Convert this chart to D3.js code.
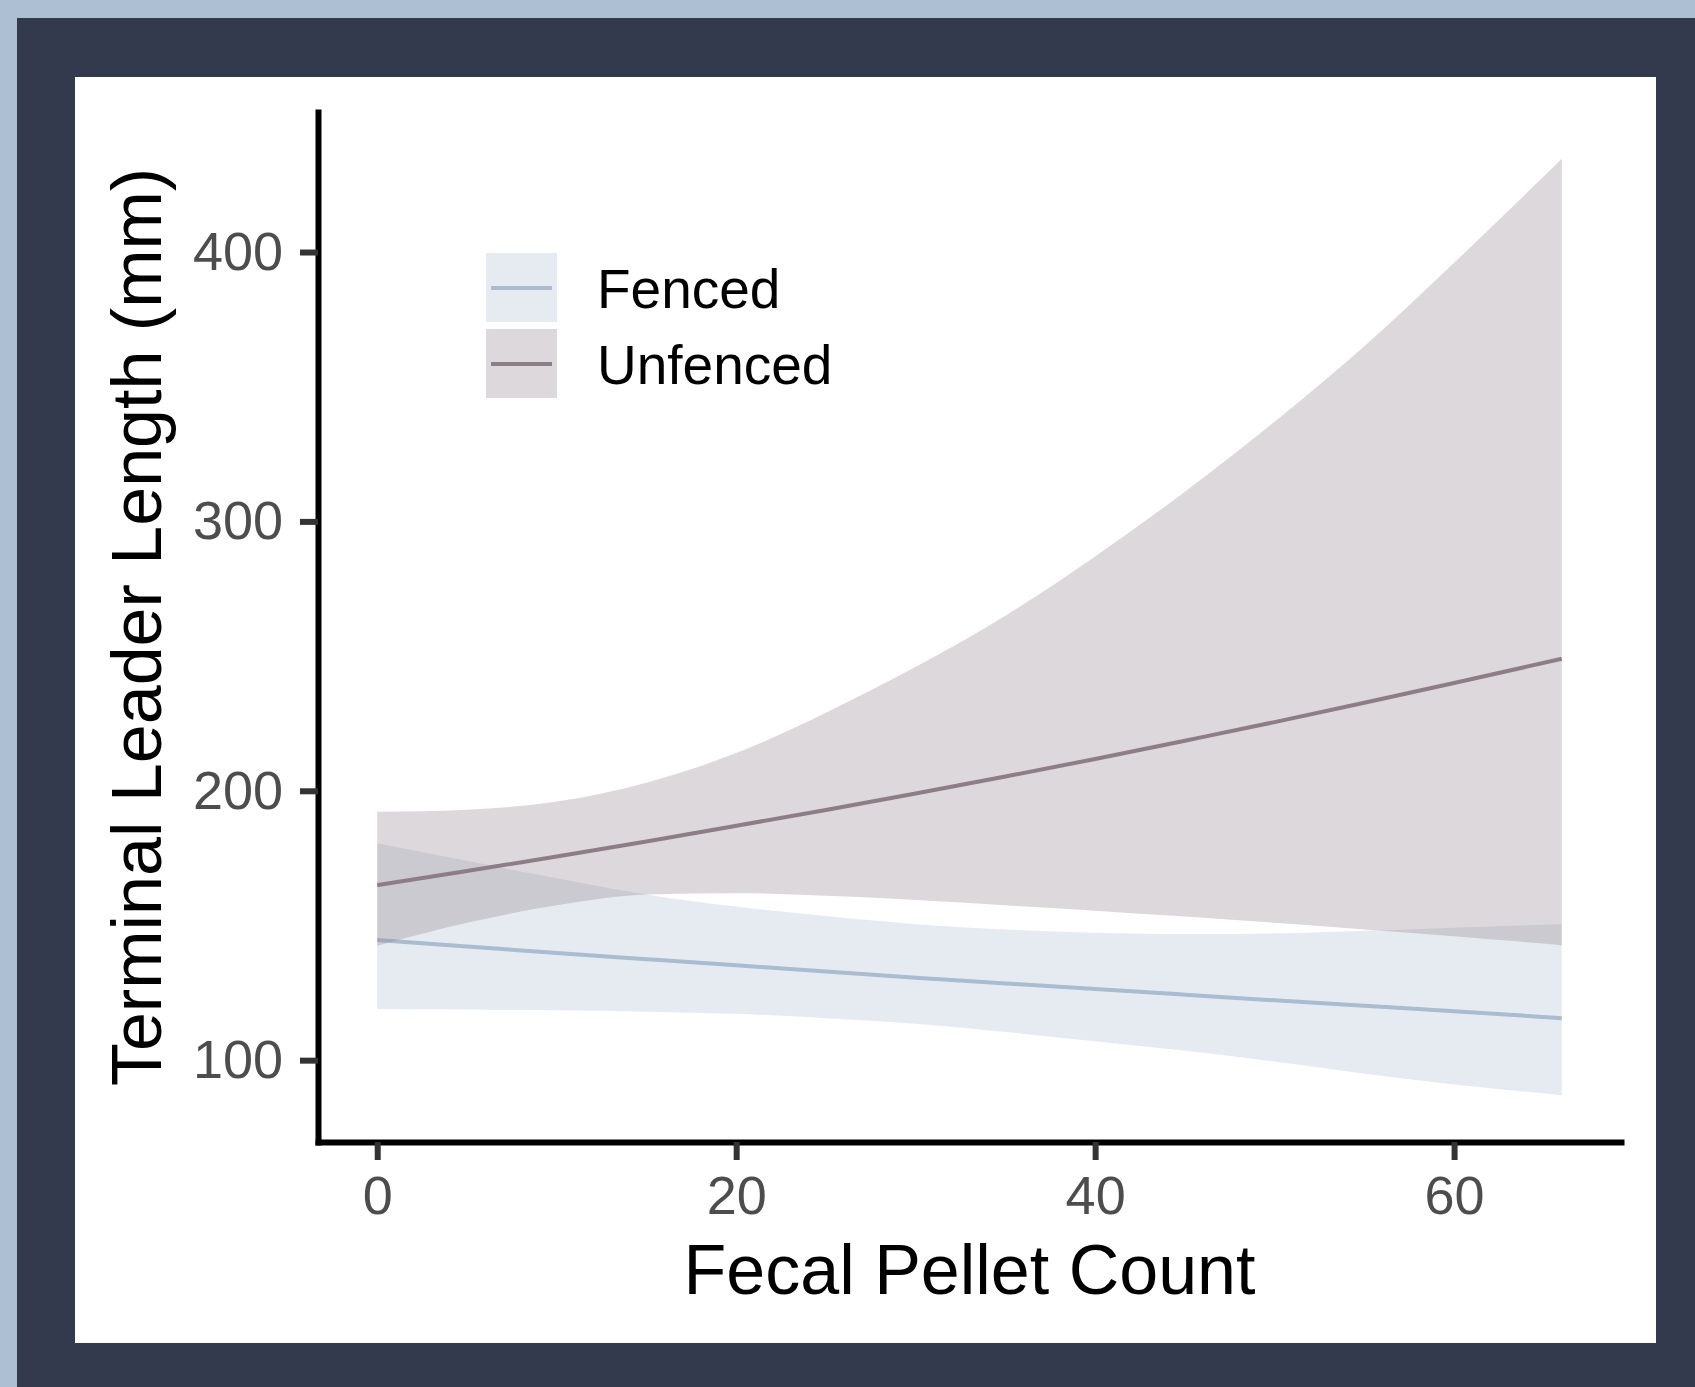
<!DOCTYPE html>
<html>
<head>
<meta charset="utf-8">
<script src="https://cdn.jsdelivr.net/npm/d3@7.9.0/dist/d3.min.js"></script>
<style>
  body { margin: 0; background: #adbfd3; }
  svg { display: block; }
  text { font-family: "Liberation Sans", Arial, sans-serif; }
</style>
</head>
<body>
<div id="chart"></div>
<script>
// fitted values
const pelletCount = [0, 5, 10, 15, 20, 25, 30, 35, 40, 45, 50, 55, 60, 66];

const fencedFit   = [144.6, 142.2, 139.8, 137.5, 135.2, 132.9, 130.6, 128.5, 126.4, 124.3, 122.2, 120.2, 118.2, 115.6];
const fencedLower = [119, 118.8, 118.5, 118, 117.2, 115.6, 113.5, 110.5, 107, 103.5, 99.5, 95, 91, 87];
const fencedUpper = [180.5, 174, 167.5, 161.5, 157, 153.5, 150.5, 148.5, 147.3, 146.8, 147, 148, 149.2, 150.5];

const unfencedFit   = [165, 170.2, 175.6, 181.2, 187, 192.9, 199, 205.3, 211.8, 218.6, 225.5, 232.7, 240, 249];
const unfencedLower = [142.5, 151, 157.5, 161.5, 162, 161, 159.5, 157.5, 155.5, 153.3, 151, 148.5, 146, 142.7];
const unfencedUpper = [192.2, 193, 196, 203, 214, 229, 246, 265, 287, 311, 337, 365, 396, 434.6];

const groups = ['Fenced', 'Unfenced'];
const groupColors = ['#a9bcd0', '#8d7d88'];
const xTicks = [0, 20, 40, 60];
const yTicks = [100, 200, 300, 400];

const width = 1695, height = 1387;
const panel = { left: 318, right: 1621, top: 112, bottom: 1142 };

const series = [
  { name: groups[0], fit: fencedFit, lo: fencedLower, hi: fencedUpper, color: groupColors[0] },
  { name: groups[1], fit: unfencedFit, lo: unfencedLower, hi: unfencedUpper, color: groupColors[1] },
].map(s => ({ ...s, rows: pelletCount.map((x, i) => ({ x, y: s.fit[i], lo: s.lo[i], hi: s.hi[i] })) }));

// ggplot style 5% expansion
function expand([a, b]) { const d = (b - a) * 0.05; return [a - d, b + d]; }

const xScale = d3.scaleLinear()
  .domain(expand(d3.extent(pelletCount)))
  .range([panel.left, panel.right]);

const allY = series.flatMap(s => [...s.lo, ...s.hi]);
const yScale = d3.scaleLinear()
  .domain(expand(d3.extent(allY)))
  .range([panel.bottom, panel.top]);

const svg = d3.select('#chart').append('svg')
  .attr('width', width)
  .attr('height', height);

// frame
svg.append('rect').attr('x', 17).attr('y', 18).attr('width', width - 17).attr('height', height - 18).attr('fill', '#343a4d');
svg.append('rect').attr('x', 75).attr('y', 77).attr('width', 1656 - 75).attr('height', 1343 - 77).attr('fill', '#ffffff');

const area = d3.area()
  .x(d => xScale(d.x))
  .y0(d => yScale(d.lo))
  .y1(d => yScale(d.hi))
  .curve(d3.curveMonotoneX);

const line = d3.line()
  .x(d => xScale(d.x))
  .y(d => yScale(d.y))
  .curve(d3.curveMonotoneX);

// ribbon + line per group, like geom_smooth
const g = svg.append('g').attr('class', 'smooths');
series.forEach(s => {
  g.append('path').datum(s.rows)
    .attr('d', area)
    .attr('fill', s.color)
    .attr('fill-opacity', 0.3);
  g.append('path').datum(s.rows)
    .attr('d', line)
    .attr('fill', 'none')
    .attr('stroke', s.color)
    .attr('stroke-width', 4);
});

// axes
const xAxis = svg.append('g')
  .attr('transform', `translate(0,${panel.bottom})`)
  .call(d3.axisBottom(xScale).tickValues(xTicks).tickSize(18).tickSizeOuter(0).tickPadding(16));

const yAxis = svg.append('g')
  .attr('transform', `translate(${panel.left},0)`)
  .call(d3.axisLeft(yScale).tickValues(yTicks).tickSize(18).tickSizeOuter(0).tickPadding(17));

[xAxis, yAxis].forEach(ax => {
  ax.select('.domain').attr('stroke', '#000').attr('stroke-width', 6).attr('stroke-linecap', 'square');
  ax.selectAll('.tick line').attr('stroke', '#333').attr('stroke-width', 6);
  ax.selectAll('.tick text')
    .attr('fill', '#4d4d4d')
    .style('font-size', '54px')
    .style('font-family', '"Liberation Sans", Arial, sans-serif');
});

// axis titles
svg.append('text')
  .attr('x', (panel.left + panel.right) / 2)
  .attr('y', 1294)
  .attr('text-anchor', 'middle')
  .style('font-size', '70px')
  .attr('fill', '#000')
  .text('Fecal Pellet Count');

svg.append('text')
  .attr('transform', `translate(161,${(panel.top + panel.bottom) / 2}) rotate(-90)`)
  .attr('text-anchor', 'middle')
  .style('font-size', '70px')
  .attr('fill', '#000')
  .text('Terminal Leader Length (mm)');

// legend
const legend = svg.append('g').attr('transform', 'translate(486,253)');
const key = legend.selectAll('g').data(series).join('g')
  .attr('transform', (d, i) => `translate(0,${i * 76})`);
key.append('rect').attr('width', 71).attr('height', 69).attr('fill', '#fff');
key.append('rect').attr('width', 71).attr('height', 69)
  .attr('fill', d => d.color).attr('fill-opacity', 0.3);
key.append('line')
  .attr('x1', 5).attr('x2', 66).attr('y1', 35).attr('y2', 35)
  .attr('stroke', d => d.color).attr('stroke-width', 4);
key.append('text')
  .attr('x', 111).attr('y', 35)
  .attr('dy', '0.36em')
  .style('font-size', '55px')
  .attr('fill', '#000')
  .text(d => d.name);
</script>
</body>
</html>
